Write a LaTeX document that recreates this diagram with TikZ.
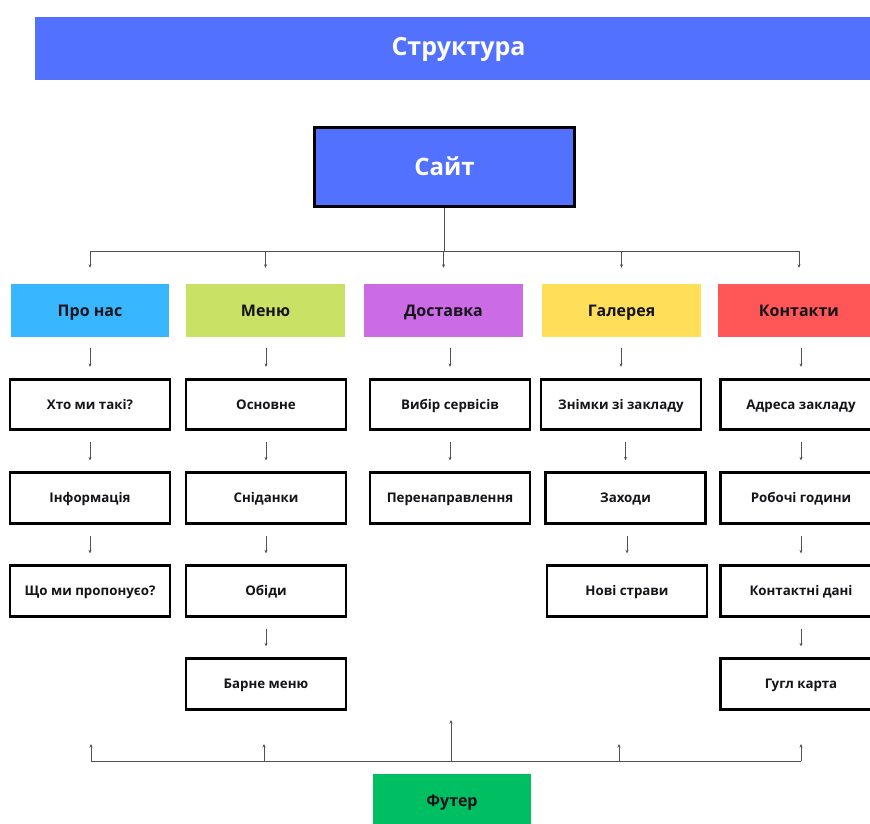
\documentclass[tikz,border=0pt]{standalone}
\usepackage{fontspec}
\setmainfont{Open Sans}
\usetikzlibrary{arrows.meta}
\definecolor{cBlue}{RGB}{82,113,255}
\definecolor{cSky}{RGB}{56,182,255}
\definecolor{cLime}{RGB}{201,226,101}
\definecolor{cPurple}{RGB}{203,108,230}
\definecolor{cYellow}{RGB}{255,222,89}
\definecolor{cRed}{RGB}{255,87,87}
\definecolor{cGreen}{RGB}{0,191,99}
\definecolor{cLine}{RGB}{80,80,80}
\definecolor{cText}{RGB}{20,20,25}
\tikzset{
  hdr/.style={draw=none, inner sep=0pt, minimum height=53pt, text=cText,
    text height=11.5pt, text depth=0pt,
    font=\fontsize{16}{19}\selectfont\bfseries},
  itembox/.style={draw=black, line width=2.7pt, fill=white, inner sep=0pt,
    minimum width=160pt, minimum height=50.5pt, text=cText,
    text height=9.5pt, text depth=0pt,
    font=\fontsize{13.3}{16}\selectfont\bfseries},
  conn/.style={draw=cLine, line width=1pt},
  arr/.style={conn, -{Stealth[length=3.5pt,width=3pt]}},
  down/.style={arr, shorten <=11pt, shorten >=11pt}
}
\begin{document}
\begin{tikzpicture}[x=1pt,y=-1pt]
\useasboundingbox (0,0) rectangle (870,823);
\clip (0,0) rectangle (870,823);
% title bar
\fill[cBlue] (35,17) rectangle (880,80);
\node[text=white, font=\fontsize{25}{30}\selectfont\bfseries] (title) at (458.5,49.5) {Структура};
% site
\node[draw=black, line width=3pt, fill=cBlue, minimum width=260pt, minimum height=79pt,
  inner sep=0pt, text=white, text height=17pt, text depth=0pt,
  font=\fontsize{24}{28}\selectfont\bfseries] (site) at (444.5,167) {Сайт};
% headers
\node[hdr, fill=cSky, minimum width=158pt] (pro) at (90,310.5) {Про нас};
\node[hdr, fill=cLime, minimum width=159pt] (menu) at (265.5,310.5) {Меню};
\node[hdr, fill=cPurple, minimum width=159pt] (dost) at (443.5,310.5) {Доставка};
\node[hdr, fill=cYellow, minimum width=159pt] (gal) at (621.5,310.5) {Галерея};
\node[hdr, fill=cRed, minimum width=162pt] (kont) at (799,310.5) {Контакти};
% top connectors
\coordinate (bus) at (444.5,251);
\draw[conn] (site.south) -- (bus);
\draw[conn] (pro.north |- bus) -- (kont.north |- bus);
\foreach \n in {pro,menu,dost,gal,kont}{
  \draw[arr, shorten >=16pt] (\n.north |- bus) -- (\n.north);
}
% column 1
\node[itembox] (c1a) at (90,404.5) {Хто ми такі?};
\node[itembox] (c1b) at (90,498) {Інформація};
\node[itembox] (c1c) at (90,591) {Що ми пропонуєо?};
% column 2
\node[itembox] (c2a) at (266,404.5) {Основне};
\node[itembox] (c2b) at (266,498) {Сніданки};
\node[itembox] (c2c) at (266,591) {Обіди};
\node[itembox] (c2d) at (266,684) {Барне меню};
% column 3
\node[itembox] (c3a) at (450,404.5) {Вибір сервісів};
\node[itembox] (c3b) at (450,498) {Перенаправлення};
% column 4
\node[itembox] (c4a) at (621,404.5) {Знімки зі закладу};
\node[itembox] (c4b) at (625.5,498) {Заходи};
\node[itembox] (c4c) at (627,591) {Нові страви};
% column 5
\node[itembox, minimum width=161pt] (c5a) at (801,404.5) {Адреса закладу};
\node[itembox, minimum width=161pt] (c5b) at (801,498) {Робочі години};
\node[itembox, minimum width=161pt] (c5c) at (801,591) {Контактні дані};
\node[itembox, minimum width=161pt] (c5d) at (801,684) {Гугл карта};
% vertical arrows
\foreach \a/\b in {pro/c1a,c1a/c1b,c1b/c1c,
                   menu/c2a,c2a/c2b,c2b/c2c,c2c/c2d,
                   dost/c3a,c3a/c3b,
                   gal/c4a,c4a/c4b,c4b/c4c,
                   kont/c5a,c5a/c5b,c5b/c5c,c5c/c5d}{
  \draw[down] (\a.south -| \b.north) -- (\b.north);
}
% footer
\node[hdr, fill=cGreen, minimum width=158pt] (foot) at (452,800.5) {Футер};
\coordinate (fb1) at (91,761);
\coordinate (fb2) at (264,761);
\coordinate (fb3) at (451,761);
\coordinate (fb4) at (619,761);
\coordinate (fb5) at (801,761);
\coordinate (ft1) at (91,744);
\coordinate (ft2) at (264,744);
\coordinate (ft3) at (451,720);
\coordinate (ft4) at (619,744);
\coordinate (ft5) at (801,744);
\draw[conn] (fb1) -- (fb5);
\foreach \i in {1,...,5}{
  \draw[arr] (fb\i) -- (ft\i);
}
\end{tikzpicture}
\end{document}
